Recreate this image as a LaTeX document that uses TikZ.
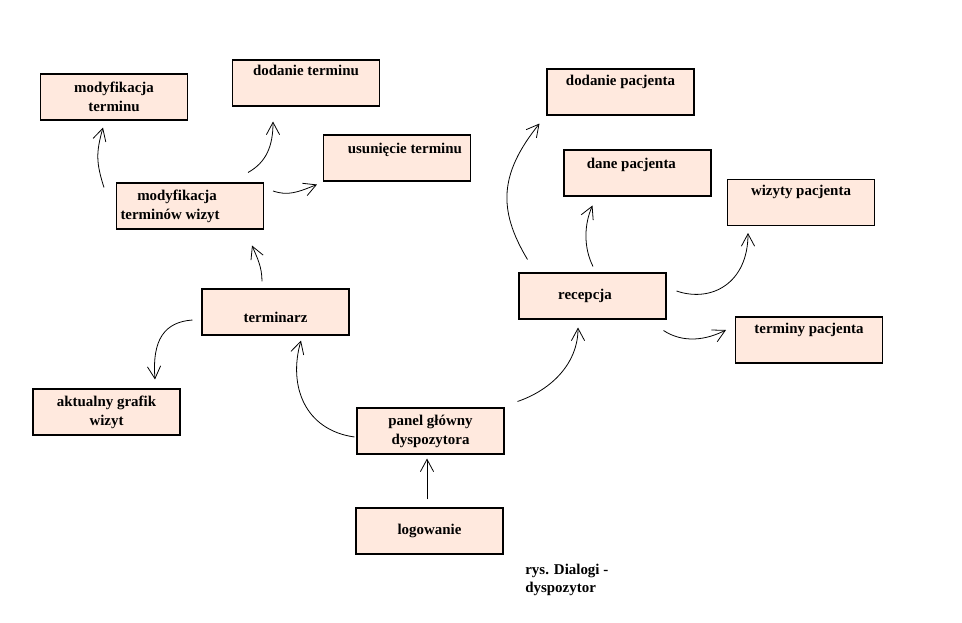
\documentclass[tikz,border=0pt]{standalone}
\usepackage{fontspec}
\setmainfont{Liberation Serif}
\usepackage{xcolor}
\usetikzlibrary{arrows.meta, calc}
\definecolor{boxfill}{RGB}{255,233,222}
\tikzstyle{window} = [rectangle, 
minimum width=2.94cm, 
minimum height=0.92cm,
inner sep=0pt,
align=center, 
draw=black, 
line width=0.6pt,
fill=boxfill,
font=\fontsize{8.5}{10.8}\selectfont\bfseries]
\tikzstyle{note} = [anchor=north west, 
align=left,
inner sep=0pt,
font=\fontsize{8.5}{10.2}\selectfont\bfseries]
\tikzstyle{arrow} = [line width=0.45pt, -{Straight Barb[length=7pt, width=7.5pt]}]
\tikzset{textup/.style={text height=6pt, text depth=#1}}

\begin{document}
\begin{tikzpicture}[x=0.02cm, y=-0.02cm]
		\useasboundingbox (0,0) rectangle (962,622);
		
		% terminarz side
		\node (modtermin) [window] at (114,97) {modyfikacja\\terminu};
		\node (dodtermin) [window, textup=14.5pt] at (306,83) {dodanie terminu};
		\node (usun) [window, textup=11.1pt] at (397,158) {\hspace*{9pt}usunięcie terminu};
		\node (modwiz) [window] at (190,206) {modyfikacja\hspace*{14.7pt}\\terminów wizyt\hspace*{22.7pt}};
		\node (terminarz) [window, text height=14.5pt, text depth=2pt] at (275.5,312) {terminarz};
		\node (grafik) [window] at (106.5,412) {aktualny grafik\\wizyt};
		
		% start
		\node (panel) [window] at (430.5,431) {panel główny\\dyspozytora};
		\node (login) [window, textup=2pt] at (429.5,531) {logowanie};
		
		% recepcja side
		\node (dodpac) [window, textup=13.3pt] at (620.5,92) {dodanie pacjenta};
		\node (danepac) [window, textup=11.1pt] at (637.5,173) {dane pacjenta\hspace*{7pt}};
		\node (wizyty) [window, textup=13.9pt] at (801,202.5) {wizyty pacjenta};
		\node (recepcja) [window, textup=2pt] at (592.5,296) {recepcja\hspace*{8.5pt}};
		\node (terminy) [window, textup=13.3pt] at (809,340) {terminy pacjenta};
		
		\node (podpis) [note] at (525,564) {rys. Dialogi -\\dyspozytor};
		
		\draw [arrow] ($(login.north)+(-2.5,-8)$) -- ($(panel.south)+(-3.5,4)$);
		\draw [arrow] ($(panel.west)+(-2,6)$) .. controls +(-50,-7) and +(-13,45) .. ($(terminarz.south)+(25.5,5)$);
		\draw [arrow] ($(terminarz.west)+(-9,8)$) .. controls +(-28,2) and +(-3,-40) .. ($(grafik.north)+(48.5,-9)$);
		\draw [arrow] ($(panel.north east)+(13,-6)$) .. controls +(35,-12) and +(0,35) .. ($(recepcja.south)+(-14.5,8)$);
		\draw [arrow] ($(terminarz.north)+(-13.5,-7)$) .. controls +(0,-15) and +(5,12) .. ($(modwiz.south east)+(-12,16)$);
		\draw [arrow] ($(modwiz.north west)+(-12,5)$) .. controls +(-8,-25) and +(-7,25) .. ($(modtermin.south)+(-11,7)$);
		\draw [arrow] ($(modwiz.north east)+(-16,-10)$) .. controls +(18,-10) and +(0,25) .. ($(dodtermin.south)+(-33,15)$);
		\draw [arrow] ($(modwiz.east)+(9,-15)$) .. controls +(15,5) and +(-20,8) .. ($(usun.south west)+(-6,3)$);
		\draw [arrow] ($(recepcja.north west)+(9,-13)$) .. controls +(-30,-50) and +(-40,50) .. ($(dodpac.south west)+(-7,8)$);
		\draw [arrow] ($(recepcja.north)+(0.5,-6)$) .. controls +(-10,-20) and +(-8,18) .. ($(danepac.south west)+(29,9)$);
		\draw [arrow] ($(recepcja.east)+(10,-5)$) .. controls +(35,12) and +(0,50) .. ($(wizyty.south west)+(21,7)$);
		\draw [arrow] ($(recepcja.south east)+(-3,11)$) .. controls +(20,13) and +(-20,10) .. ($(terminy.west)+(-9,-10)$);
		
	\end{tikzpicture}
\end{document}
